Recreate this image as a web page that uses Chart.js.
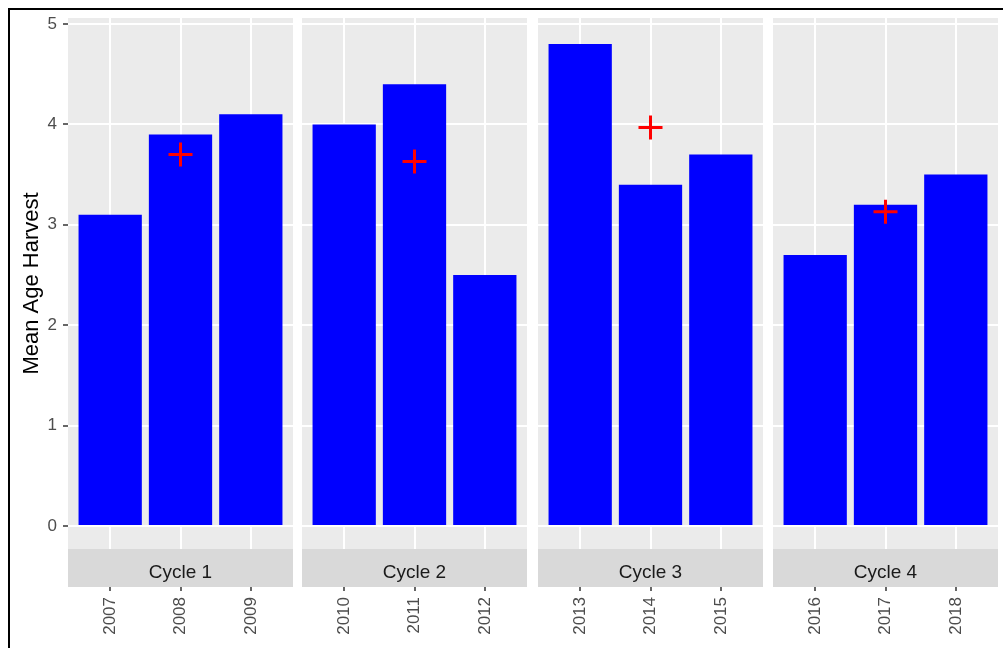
<!DOCTYPE html>
<html>
<head>
<meta charset="utf-8">
<script src="https://cdn.jsdelivr.net/npm/chart.js@4.4.1/dist/chart.umd.min.js"></script>
<style>
  html, body { margin: 0; padding: 0; background: #fff; }
  #wrap { position: relative; width: 1003px; height: 648px; overflow: hidden; }
  #frame { position: absolute; left: 8px; top: 8px; width: 1100px; height: 800px;
           border-left: 2px solid #000; border-top: 2px solid #000; }
  canvas { position: absolute; top: 0; }
</style>
</head>
<body>
<div id="wrap"><div id="frame"></div></div>
<script>
const cycles = ['Cycle 1', 'Cycle 2', 'Cycle 3', 'Cycle 4'];
const years = [
  ['2007', '2008', '2009'],
  ['2010', '2011', '2012'],
  ['2013', '2014', '2015'],
  ['2016', '2017', '2018']
];
const meanAge = [
  [3.1, 3.9, 4.1],
  [4.0, 4.4, 2.5],
  [4.8, 3.4, 3.7],
  [2.7, 3.2, 3.5]
];
const cycleMean = [3.7, 3.63, 3.97, 3.13];
const yTicks = [0, 1, 2, 3, 4, 5];

const FONT = "'Liberation Sans', Arial, sans-serif";
const panelLeft = [68, 302, 538, 773];
const panelW = 225;
const axisW = 68;

// grey panel behind the bars, facet strip under it
const facet = {
  id: 'facet',
  beforeDraw(chart) {
    const { ctx, chartArea: a } = chart;
    ctx.save();
    ctx.fillStyle = '#EBEBEB';
    ctx.fillRect(a.left, a.top, a.right - a.left, a.bottom - a.top);
    ctx.restore();
  },
  afterDraw(chart, args, opts) {
    const { ctx, chartArea: a } = chart;
    ctx.save();
    ctx.fillStyle = '#D9D9D9';
    ctx.fillRect(a.left, a.bottom, a.right - a.left, 38);
    ctx.fillStyle = '#1A1A1A';
    ctx.font = '19px ' + FONT;
    ctx.textAlign = 'center';
    ctx.textBaseline = 'middle';
    ctx.fillText(opts.label, (a.left + a.right) / 2, a.bottom + 24);
    ctx.restore();
  }
};

const wrap = document.getElementById('wrap');

cycles.forEach((cycle, i) => {
  const first = i === 0;
  const cv = document.createElement('canvas');
  cv.width = panelW + (first ? axisW : 0);
  cv.height = 648;
  cv.style.left = (panelLeft[i] - (first ? axisW : 0)) + 'px';
  wrap.appendChild(cv);

  new Chart(cv, {
    type: 'bar',
    plugins: [facet],
    data: {
      datasets: [
        {
          type: 'scatter',
          data: [{ x: 2, y: cycleMean[i] }],
          pointStyle: 'cross',
          pointRadius: 12,
          pointBorderWidth: 3,
          pointBorderColor: '#FF0000',
          borderColor: '#FF0000',
          order: 1
        },
        {
          type: 'bar',
          data: meanAge[i].map((v, j) => ({ x: j + 1, y: v })),
          backgroundColor: '#0000FF',
          borderWidth: 0,
          barPercentage: 0.9,
          categoryPercentage: 1,
          order: 2
        }
      ]
    },
    options: {
      responsive: false,
      animation: false,
      layout: { autoPadding: false, padding: { top: 18, left: 0, right: 0, bottom: 0 } },
      plugins: {
        legend: { display: false },
        tooltip: { enabled: false },
        facet: { label: cycle }
      },
      scales: {
        x: {
          type: 'linear',
          offset: false,
          min: 0.4,
          max: 3.6,
          afterBuildTicks: s => { s.ticks = years[i].map((_, j) => ({ value: j + 1 })); },
          afterFit: s => { s.height = 99; s.paddingLeft = 0; s.paddingRight = 0; },
          border: { display: false },
          grid: { offset: false, color: '#FFFFFF', lineWidth: 2, tickColor: '#333333', tickWidth: 1.5, tickLength: 42 },
          ticks: {
            autoSkip: false,
            minRotation: 90,
            maxRotation: 90,
            padding: 6,
            color: '#4D4D4D',
            font: { family: FONT, size: 17 },
            callback: (v, idx) => years[i][idx]
          }
        },
        y: {
          min: -0.23,
          max: 5.06,
          afterBuildTicks: s => { s.ticks = yTicks.map(v => ({ value: v })); },
          afterFit: s => { s.width = first ? axisW : 0; },
          border: { display: false },
          grid: { color: '#FFFFFF', lineWidth: 2, drawTicks: first, tickColor: '#333333', tickWidth: 1.5, tickLength: 5 },
          ticks: {
            display: first,
            padding: 6,
            color: '#4D4D4D',
            font: { family: FONT, size: 17 }
          },
          title: {
            display: first,
            text: 'Mean Age Harvest',
            color: '#000000',
            font: { family: FONT, size: 22 },
            padding: { top: 19, bottom: 0 }
          }
        }
      }
    }
  });
});
</script>
</body>
</html>
